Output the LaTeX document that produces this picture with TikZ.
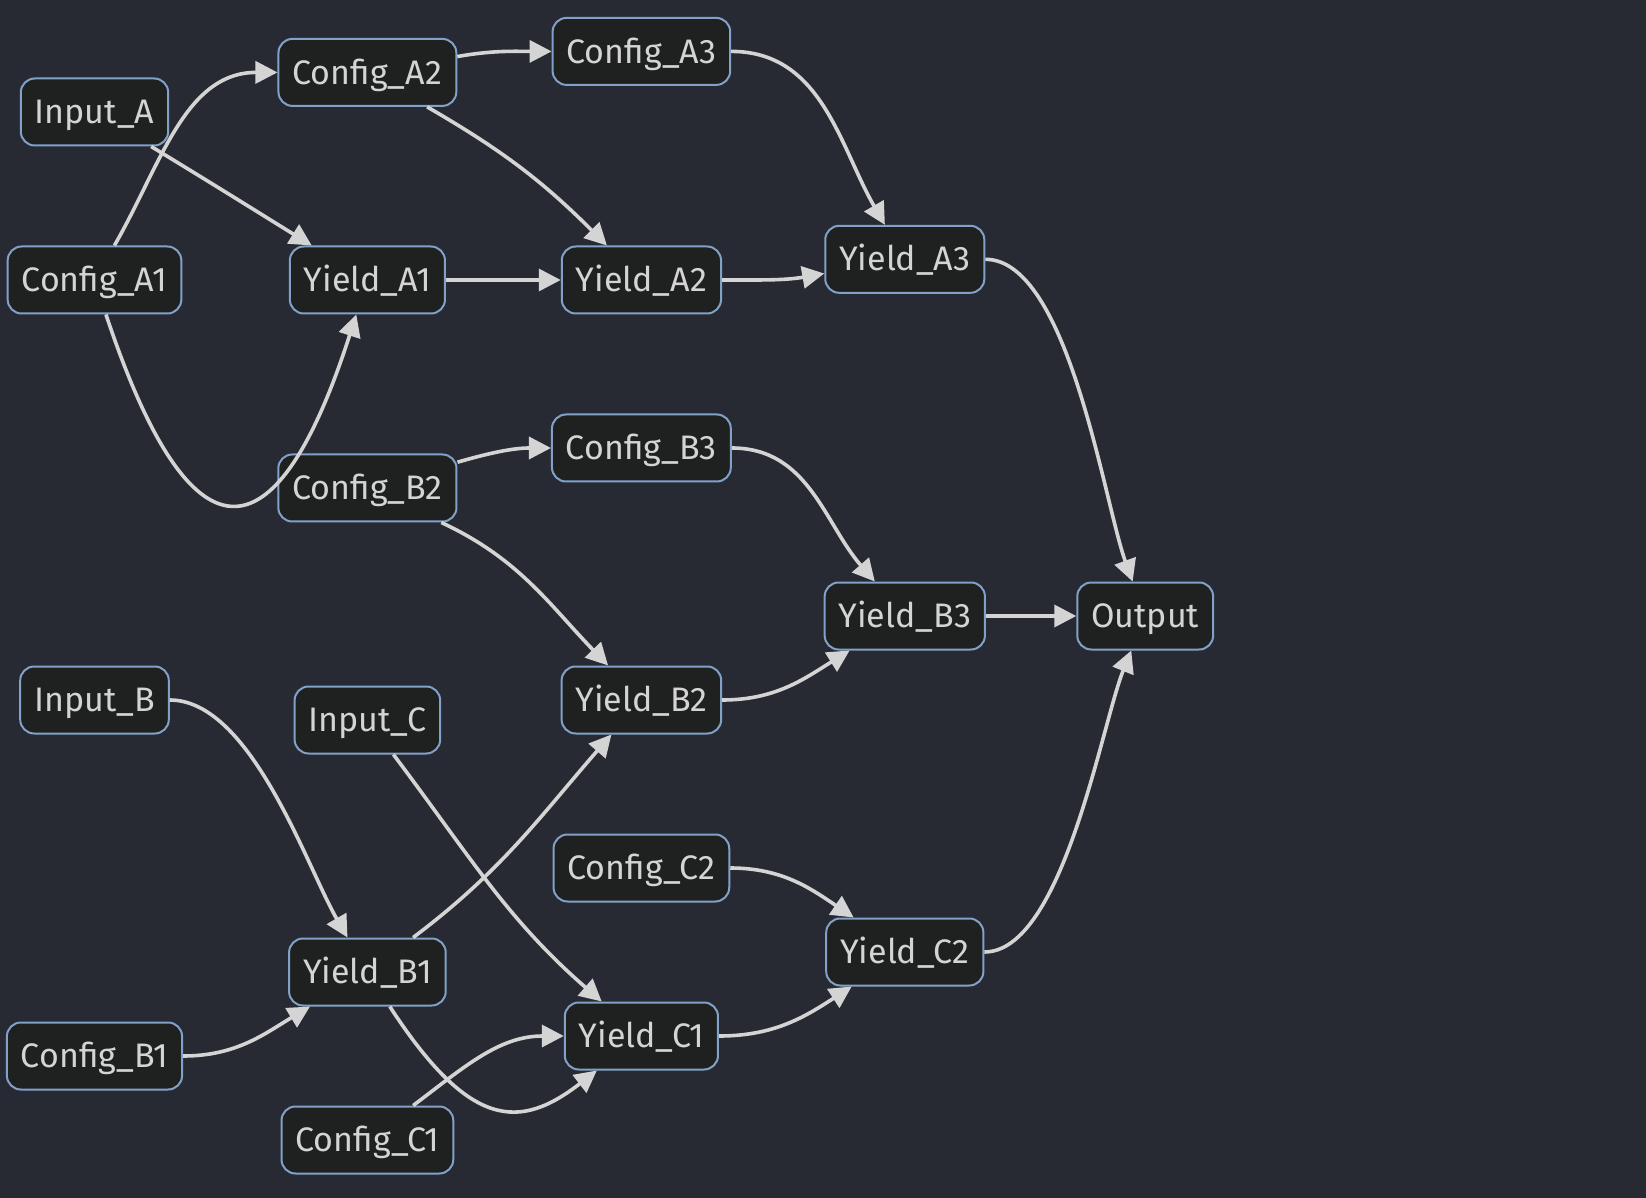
\documentclass[tikz,border=0pt]{standalone}
\usepackage{fontspec}
\setsansfont{Fira Sans}
\usetikzlibrary{arrows.meta}
\definecolor{bgcol}{HTML}{282A33}
\definecolor{boxfill}{HTML}{1F2020}
\definecolor{boxline}{HTML}{81A1C9}
\definecolor{inkcol}{HTML}{D4D4D4}
\begin{document}
\begin{tikzpicture}[x=0.5pt,y=0.5pt,
    box/.style={draw=boxline,fill=boxfill,line width=1pt,rounded corners=7pt,
        minimum height=33.5pt,inner xsep=7pt,text=inkcol,text height=11.7pt,text depth=0pt,
        font=\sffamily\fontsize{17}{20}\selectfont},
    edge/.style={draw=inkcol,line width=1.8pt,-{Triangle[length=11pt,width=11pt]}}]
    \fill[bgcol] (0,0) rectangle (1646,-1198);
    \useasboundingbox (0,0) rectangle (1646,-1198);
    \foreach \n/\t/\x/\y in {InputA/Input\_A/94.5/112, ConfigA1/Config\_A1/94.5/280,
        ConfigA2/Config\_A2/367.4/72.4, ConfigA3/Config\_A3/641.4/51.4,
        YieldA1/Yield\_A1/367.4/280, YieldA2/Yield\_A2/641.4/280,
        YieldA3/Yield\_A3/904.8/259.3, ConfigB2/Config\_B2/367.4/488,
        ConfigB3/Config\_B3/641.4/448, YieldB3/Yield\_B3/904.8/616,
        Output/Output/1145.2/616, InputB/Input\_B/94.5/700,
        InputC/Input\_C/367.4/720, YieldB2/Yield\_B2/641.4/700,
        ConfigC2/Config\_C2/641.4/868, YieldC2/Yield\_C2/904.8/952,
        YieldB1/Yield\_B1/367.4/972, YieldC1/Yield\_C1/641.4/1036,
        ConfigB1/Config\_B1/94.5/1056, ConfigC1/Config\_C1/367.4/1140}{
        \node[box] (\n) at (\x,-\y) {\t};
    }
    \foreach \a/\b/\o/\i/\l in {InputA/YieldA1/-31.6/148.4/1, ConfigA1/ConfigA2/60/180/1,
        ConfigA2/ConfigA3/10/180/1, ConfigA2/YieldA2/-30/135/1, YieldA1/YieldA2/0/180/1,
        ConfigA3/YieldA3/0/120/1, YieldA2/YieldA3/0/190/1, YieldA3/Output/0/110/0.6,
        ConfigB2/ConfigB3/16/180/1, ConfigB2/YieldB2/-25/134/1, ConfigB3/YieldB3/0/131/1,
        YieldB2/YieldB3/0/212/1, YieldB3/Output/0/180/1, InputB/YieldB1/0/120/0.7,
        ConfigB1/YieldB1/0/211/1, YieldB1/YieldB2/37/229/1, InputC/YieldC1/-53/139/1,
        ConfigC1/YieldC1/37/180/1, ConfigC2/YieldC2/0/146/1, YieldC1/YieldC2/0/213/1,
        YieldC2/Output/0/248/0.6}{
        \draw[edge] (\a) to[out=\o,in=\i,looseness=\l] (\b);
    }
    % the two looping edges
    \draw[edge] (ConfigA1) .. controls (190,-567) and (275,-567) .. (YieldA1);
    \draw[edge] (YieldB1) .. controls (470,-1130) and (520,-1130) .. (YieldC1);
\end{tikzpicture}
\end{document}
